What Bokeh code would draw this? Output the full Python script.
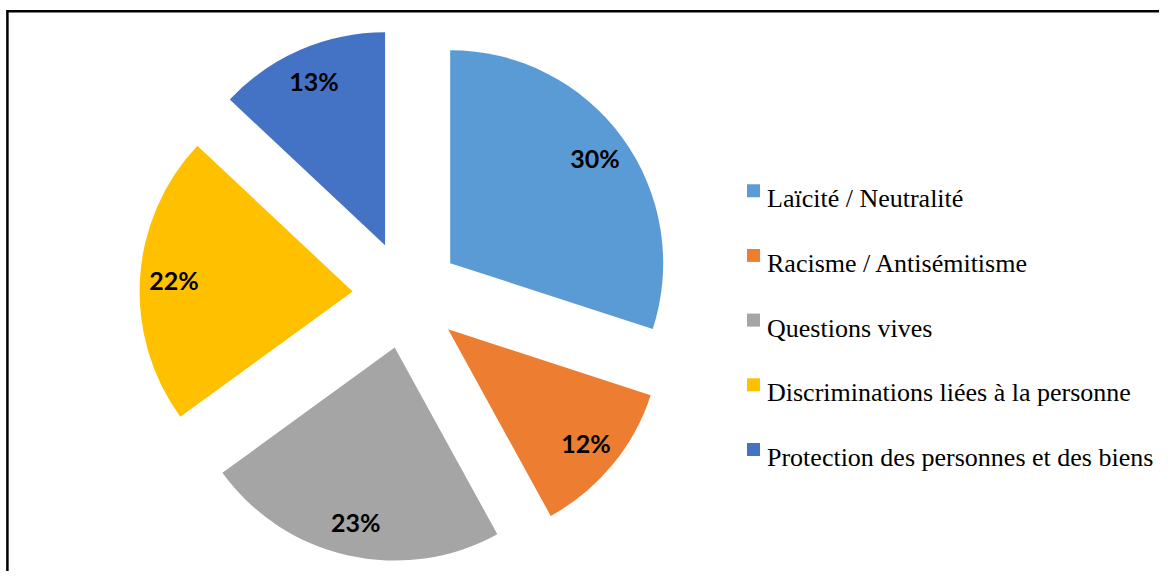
import numpy as np
from bokeh.plotting import figure
from bokeh.models import Range1d, ColumnDataSource
from bokeh.core.properties import value
from bokeh.embed import file_html
from bokeh.resources import INLINE

categories = [
    "Laïcité / Neutralité",
    "Racisme / Antisémitisme",
    "Questions vives",
    "Discriminations liées à la personne",
    "Protection des personnes et des biens",
]
values = [30, 12, 23, 22, 13]
colors = ["#5B9BD5", "#ED7D31", "#A5A5A5", "#FFC000", "#4472C4"]

W, H = 1159, 571
CX, CY = 406, 276.6    # pie centre (pixels, y up)
R = 213                # radius
EXPLODE = 54           # explosion offset
LABEL_FRAC = 0.84

vals = np.array(values, dtype=float)
frac = vals / vals.sum()
cum = np.concatenate([[0.0], np.cumsum(frac)])
start = np.pi / 2 - 2 * np.pi * cum[:-1]
end = np.pi / 2 - 2 * np.pi * cum[1:]
mid = (start + end) / 2
wx = CX + EXPLODE * np.cos(mid)
wy = CY + EXPLODE * np.sin(mid)
lx = wx + LABEL_FRAC * R * np.cos(mid)
ly = wy + LABEL_FRAC * R * np.sin(mid)

src = ColumnDataSource(dict(
    x=wx, y=wy, start=start, end=end, color=colors, cat=categories,
    lx=lx, ly=ly, lab=[f"{v}%" for v in values],
))

p = figure(width=W, height=H, x_range=Range1d(0, W), y_range=Range1d(0, H),
           output_backend="svg", toolbar_location=None, min_border=0,
           x_axis_location=None, y_axis_location=None)
p.grid.visible = False
p.outline_line_color = None
p.background_fill_color = "white"

p.wedge(x="x", y="y", radius=R, start_angle="start", end_angle="end",
        direction="clock", fill_color="color", line_color=None, source=src)

p.text(x="lx", y="ly", text="lab", source=src, text_align="center",
       text_baseline="middle", text_font=value("Lato"), text_font_style="bold",
       text_font_size="25px", text_color="black")

# legend (drawn manually)
LEG_X, LEG_TOP, LEG_PITCH = 753, H - 190.2, 64.7
ly_leg = LEG_TOP - LEG_PITCH * np.arange(len(categories))
leg = ColumnDataSource(dict(x=[LEG_X] * len(categories), y=ly_leg,
                            tx=[LEG_X + 13.5] * len(categories), ty=ly_leg - 8,
                            color=colors, cat=categories))
p.scatter(x="x", y="y", marker="square", size=13, fill_color="color",
          line_color=None, source=leg)
p.text(x="tx", y="ty", text="cat", source=leg, text_align="left",
       text_baseline="alphabetic", text_font=value("Liberation Serif"),
       text_font_size="26px", text_color="black")

# frame (top and left edges only visible in the reference)
FX, FY = 6.9, H - 10.7
p.line(x=[FX, FX, W], y=[0, FY, FY], line_color="black", line_width=2.5,
       line_join="miter")

open("out.html", "w").write(file_html(p, INLINE))
